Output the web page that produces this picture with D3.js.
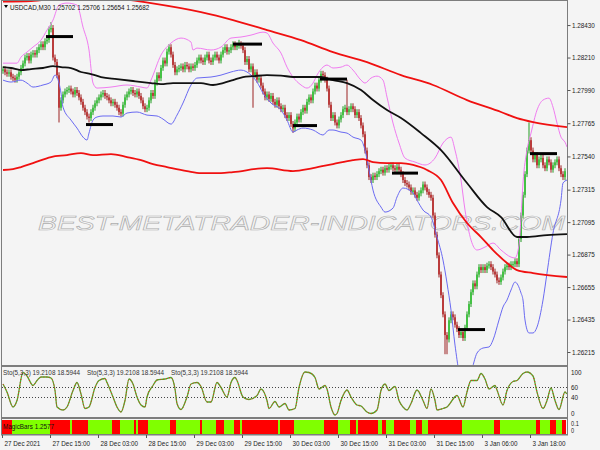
<!DOCTYPE html>
<html><head><meta charset="utf-8">
<script src="https://cdn.jsdelivr.net/npm/d3@7"></script>
<style>
body{margin:0;background:#f4f4f4}
svg{display:block}
text{font-family:"Liberation Sans",Arial,sans-serif;}
</style>
</head><body><svg id="c" width="600" height="450"></svg>
<script>
// ---------------- DATA ----------------
const symbolTitle = "USDCAD,M30 1.25702 1.25706 1.25654 1.25682";
const PIP_BASE = 1.26;      // closes stored as pips above 1.26000
const firstOpenPips = 212;
const closePips = [
213,211,210,211,208,207,206,208,211,214,
217,221,222,219,223,224,223,226,228,230,228,232,233,
240,241,
221,
218,209,187,192,196,
198,199,200,198,196,199,197,194,
191,187,184,181,180,184,
187,190,192,194,196,197,195,
194,192,190,191,189,187,184,183,
189,194,196,198,199,197,196,198,195,
192,188,186,187,
192,197,195,204,209,207,214,219,217,225,228,
223,216,211,213,
214,215,213,216,215,213,215,214,216,219,221,
219,218,221,223,219,218,221,223,221,219,
223,226,228,225,226,228,230,228,229,230,229,
226,218,220,213,215,209,211,206,207,202,
198,194,196,193,195,191,189,192,188,186,187,182,180,182,176,173,
177,181,179,184,187,185,191,194,192,198,202,200,206,210,
209,206,200,189,180,182,
177,175,179,182,186,187,184,186,188,186,182,184,180,175,
169,158,148,
140,138,141,140,142,144,145,143,146,145,147,148,146,145,147,145,
142,138,136,135,133,130,131,128,126,129,131,135,133,130,128,126,
114,101,87,74,60,47,33,
30,43,47,45,40,37,33,35,31,38,47,54,
62,68,66,74,79,77,79,77,80,81,79,76,74,70,69,72,76,79,80,79,81,81,83,81,
98,114,128,142,158,165,
158,152,155,148,152,153,148,146,152,150,145,148,150,152,146,142,140,144
];
const typicalWickPips = 2;
const longHighWicks = [[24,245],[84,230],[118,233],[160,212],[172,206],[263,177]];
const longLowWicks  = [[28,177],[43,177],[125,187],[145,170],[221,20],[222,20]];

const redSlow = [[0,1.28589],[14,1.28593],[29,1.28613],[49,1.28620],[64,1.28599],[74,1.28579],[99,1.28518],[115,1.28464],[132,1.28396],[149,1.28328],[165,1.28247],[182,1.28179],[199,1.28091],[215,1.28024],[232,1.27922],[249,1.27841],[257,1.27800],[265,1.27773],[282,1.27739]];
const redFast = [[0,1.27448],[5,1.27454],[9,1.27468],[15,1.27495],[24,1.27536],[32,1.27549],[39,1.27563],[45,1.27549],[54,1.27556],[62,1.27536],[69,1.27515],[75,1.27488],[82,1.27468],[92,1.27441],[99,1.27427],[109,1.27427],[115,1.27434],[132,1.27461],[145,1.27441],[155,1.27461],[165,1.27488],[175,1.27515],[180,1.27522],[185,1.27502],[192,1.27495],[199,1.27495],[205,1.27482],[212,1.27448],[219,1.27380],[225,1.27224],[232,1.27089],[239,1.26994],[245,1.26906],[252,1.26818],[257,1.26770],[265,1.26750],[282,1.26723]];
const blackMA = [[0,1.28145],[4,1.28139],[9,1.28125],[14,1.28132],[20,1.28139],[25,1.28152],[29,1.28145],[34,1.28139],[39,1.28112],[44,1.28098],[49,1.28078],[57,1.28064],[65,1.28051],[74,1.28037],[79,1.28030],[85,1.28037],[99,1.28037],[105,1.28024],[110,1.28037],[115,1.28057],[120,1.28078],[125,1.28084],[132,1.28091],[139,1.28088],[145,1.28078],[159,1.28078],[165,1.28057],[172,1.28037],[179,1.27990],[185,1.27922],[192,1.27854],[199,1.27800],[209,1.27698],[219,1.27583],[232,1.27360],[242,1.27197],[249,1.27129],[257,1.26994],[262,1.26994],[272,1.27007],[282,1.27014]];
const bbUpper = [[0,1.28172],[7,1.28172],[9,1.28213],[12,1.28247],[15,1.28281],[19,1.28328],[22,1.28396],[25,1.28464],[28,1.28565],[32,1.28579],[37,1.28565],[40,1.28416],[43,1.28261],[45,1.28037],[47,1.28003],[54,1.28010],[62,1.28024],[69,1.28010],[72,1.28003],[74,1.28057],[79,1.28227],[84,1.28308],[89,1.28342],[94,1.28315],[95,1.28261],[97,1.28274],[104,1.28261],[109,1.28281],[114,1.28342],[119,1.28349],[124,1.28362],[130,1.28382],[132,1.28376],[135,1.28308],[139,1.28240],[142,1.28145],[145,1.28078],[149,1.28024],[152,1.28003],[155,1.28037],[157,1.28091],[160,1.28145],[162,1.28159],[165,1.28139],[169,1.28145],[172,1.28159],[175,1.28125],[179,1.28057],[181,1.28037],[184,1.28071],[187,1.28084],[190,1.28057],[192,1.27942],[195,1.27766],[198,1.27631],[201,1.27529],[206,1.27502],[211,1.27482],[216,1.27529],[220,1.27631],[224,1.27671],[226,1.27583],[229,1.27380],[231,1.27177],[234,1.26974],[237,1.26906],[241,1.26926],[245,1.26953],[249,1.26906],[254,1.26858],[256,1.26852],[258,1.26940],[259,1.27129],[260,1.27360],[262,1.27583],[264,1.27698],[267,1.27854],[270,1.27922],[273,1.27935],[275,1.27874],[277,1.27766],[279,1.27671],[281,1.27637],[282,1.27604]];
const bbLower = [[0,1.28057],[4,1.28044],[9,1.28057],[12,1.28037],[15,1.28010],[20,1.28024],[24,1.28044],[26,1.28091],[27,1.28078],[29,1.27969],[30,1.27874],[34,1.27786],[37,1.27732],[40,1.27671],[42,1.27651],[43,1.27698],[45,1.27786],[47,1.27807],[50,1.27814],[55,1.27814],[59,1.27807],[62,1.27834],[67,1.27841],[72,1.27820],[77,1.27814],[80,1.27793],[84,1.27759],[87,1.27820],[90,1.27902],[94,1.28024],[97,1.28071],[104,1.28078],[109,1.28091],[114,1.28112],[119,1.28125],[124,1.28091],[127,1.28044],[130,1.27969],[134,1.27902],[139,1.27854],[142,1.27786],[145,1.27705],[147,1.27719],[150,1.27732],[155,1.27719],[160,1.27685],[163,1.27719],[165,1.27719],[169,1.27705],[172,1.27698],[175,1.27671],[179,1.27651],[181,1.27583],[183,1.27448],[185,1.27312],[189,1.27197],[191,1.27163],[195,1.27190],[197,1.27265],[200,1.27326],[205,1.27292],[207,1.27244],[210,1.27177],[214,1.27129],[217,1.26994],[220,1.26838],[222,1.26682],[224,1.26499],[226,1.26262],[230,1.25991],[234,1.26079],[237,1.26208],[240,1.26242],[243,1.26249],[245,1.26296],[248,1.26432],[250,1.26520],[252,1.26567],[254,1.26635],[256,1.26689],[259,1.26615],[260,1.26567],[261,1.26432],[263,1.26344],[265,1.26344],[267,1.26384],[270,1.26567],[272,1.26750],[275,1.27021],[279,1.27244],[280,1.27360],[282,1.27380]];
// horizontal level marks: [fromBar, toBar, price]
const levelMarks = [[22,35.5,1.28352],[42,55.5,1.27756],[115.5,130,1.28301],[145.5,157.5,1.27749],[159,172.5,1.28064],[195,208,1.27427],[228,241.5,1.26367],[264,277.5,1.27559]];

const priceTickLabels = ["1.28430","1.28210","1.27990","1.27765","1.27540","1.27315","1.27095","1.26875","1.26655","1.26435","1.26215"];
const dateTickBars = [0,24,48,72,96,120,144,168,192,216,240,264];
const dateTickLabels = ["27 Dec 2021","27 Dec 15:00","28 Dec 03:00","28 Dec 15:00","29 Dec 03:00","29 Dec 15:00","30 Dec 03:00","30 Dec 15:00","31 Dec 03:00","31 Dec 15:00","3 Jan 06:00","3 Jan 18:00"];

const stochLabel = "Sto(5,3,3) 19.2108 18.5944";
const stochLevels = [100,60,40,0];
const stochPoints = [[0,66],[2,50],[5,20],[7,33],[10,89],[12,82],[15,63],[17,73],[19,80],[22,80],[24,78],[26,53],[27,20],[30,14],[32,20],[35,53],[37,69],[39,46],[41,17],[43,20],[46,59],[48,73],[51,77],[52,69],[55,40],[57,20],[59,10],[61,33],[63,76],[65,66],[67,40],[69,24],[71,20],[72,40],[75,63],[77,74],[81,76],[84,79],[86,56],[87,27],[89,15],[92,40],[94,66],[97,69],[99,61],[102,30],[104,30],[107,69],[109,59],[112,40],[114,69],[116,79],[117,73],[120,40],[123,35],[127,43],[129,56],[132,33],[133,17],[136,31],[138,20],[141,27],[143,14],[146,17],[148,59],[151,90],[153,89],[156,79],[158,56],[161,63],[162,56],[164,20],[166,4],[167,7],[169,33],[172,54],[174,40],[177,24],[179,22],[182,10],[184,7],[187,14],[189,53],[191,66],[193,53],[196,61],[198,33],[200,20],[202,14],[204,27],[207,54],[210,33],[212,17],[214,56],[216,33],[217,14],[220,17],[222,20],[227,43],[230,20],[232,50],[234,73],[237,73],[239,87],[241,76],[243,56],[246,63],[247,54],[250,24],[252,53],[255,71],[257,73],[260,87],[262,90],[265,82],[267,50],[270,17],[272,33],[274,58],[276,33],[278,15],[281,50],[282,46]];

const magicLabel = "MagicBars 1.2577";
const magicLevels = ["0.1","0"];
const magicChanges = [[0,"dn"],[5,"up"],[24,"dn"],[34,"up"],[35,"dn"],[43,"up"],[55,"dn"],[59,"up"],[66,"dn"],[67,"up"],[68,"dn"],[73,"up"],[84,"dn"],[87,"up"],[99,"dn"],[100,"up"],[107,"dn"],[111,"up"],[116,"dn"],[119,"up"],[120,"dn"],[138,"up"],[139,"dn"],[146,"up"],[161,"dn"],[168,"up"],[174,"dn"],[177,"up"],[178,"dn"],[188,"up"],[190,"dn"],[192,"up"],[196,"dn"],[204,"up"],[207,"dn"],[210,"up"],[213,"dn"],[230,"up"],[246,"dn"],[249,"up"],[267,"dn"],[269,"up"],[274,"dn"],[277,"up"],[280,"dn"]];
const watermark = "BEST-METATRADER-INDICATORS.COM";

// ---------------- LAYOUT ----------------
const L = 2, R = 567, NB = 282;
const main = {top:1, bottom:365};
const sto  = {top:367, bottom:417};
const mag  = {top:419, bottom:434};

const svg = d3.select("#c");
svg.append("rect").attr("width",600).attr("height",450).attr("fill","#f4f4f4");

const x = d3.scaleLinear().domain([0, NB]).range([3, 3 + 2*NB]);      // bar centre
const xe = d3.scaleLinear().domain([0, NB]).range([2, 2 + 2*NB]);     // bar left edge
const y = d3.scaleLinear().domain([1.26127, 1.28593]).range([main.bottom, main.top]);
const ys = d3.scaleLinear().domain([0,100]).range([sto.bottom, sto.top]);

const defs = svg.append("defs");
defs.append("clipPath").attr("id","cm").append("rect").attr("x",L).attr("y",0).attr("width",R-L).attr("height",main.bottom);
defs.append("clipPath").attr("id","cs").append("rect").attr("x",L).attr("y",sto.top).attr("width",R-L).attr("height",sto.bottom-sto.top);

// watermark
svg.append("text").attr("x",38).attr("y",230).text(watermark)
  .attr("font-family","DejaVu Sans, sans-serif").attr("font-style","italic")
  .attr("font-size",20.5).attr("textLength",527).attr("lengthAdjust","spacingAndGlyphs")
  .attr("fill","none").attr("stroke","#adadad").attr("stroke-width",0.6);

const gm = svg.append("g").attr("clip-path","url(#cm)");

// candles
const px = p => PIP_BASE + p/10000;
const hiMap = new Map(longHighWicks), loMap = new Map(longLowWicks);
const candles = closePips.map((c,i)=>{
  const o = i ? closePips[i-1] : firstOpenPips;
  const hi = hiMap.has(i) ? hiMap.get(i) : Math.max(o,c) + typicalWickPips;
  const lo = loMap.has(i) ? loMap.get(i) : Math.min(o,c) - typicalWickPips;
  return {i, o:px(o), c:px(c), h:px(hi), l:px(lo), up: c>=o};
});
const upCol = "#239a23", dnCol = "#9c2323";
gm.append("g").selectAll("line").data(candles).join("line")
  .attr("x1",d=>x(d.i)).attr("x2",d=>x(d.i)).attr("y1",d=>y(d.h)).attr("y2",d=>y(d.l))
  .attr("stroke",d=>d.up?upCol:dnCol).attr("stroke-width",1);
gm.append("g").selectAll("rect").data(candles).join("rect")
  .attr("x",d=>x(d.i)-0.9).attr("width",1.8)
  .attr("y",d=>y(Math.max(d.o,d.c))).attr("height",d=>Math.max(1,Math.abs(y(d.o)-y(d.c))))
  .attr("fill",d=>d.up?"#3cc03c":"#b83434");

// indicator lines
const line = d3.line().x(d=>x(d[0])).y(d=>y(d[1])).curve(d3.curveMonotoneX);
gm.append("path").attr("d",line(bbUpper)).attr("fill","none").attr("stroke","#f07cf0").attr("stroke-width",1);
gm.append("path").attr("d",line(bbLower)).attr("fill","none").attr("stroke","#6a6af2").attr("stroke-width",1);
gm.append("path").attr("d",line(blackMA)).attr("fill","none").attr("stroke","#111").attr("stroke-width",1.8);
gm.append("path").attr("d",line(redFast)).attr("fill","none").attr("stroke","#f01010").attr("stroke-width",1.8);
gm.append("path").attr("d",line(redSlow)).attr("fill","none").attr("stroke","#f01010").attr("stroke-width",1.8);

// level marks
gm.append("g").selectAll("line").data(levelMarks).join("line")
  .attr("x1",d=>xe(d[0])).attr("x2",d=>xe(d[1])).attr("y1",d=>y(d[2])).attr("y2",d=>y(d[2]))
  .attr("stroke","#000").attr("stroke-width",3);

// stochastic pane
const gs = svg.append("g").attr("clip-path","url(#cs)");
gs.selectAll("line.lvl").data([60,40]).join("line").attr("class","lvl")
  .attr("x1",L).attr("x2",R).attr("y1",d=>ys(d)+0.5).attr("y2",d=>ys(d)+0.5)
  .attr("stroke","#444").attr("stroke-width",1).attr("stroke-dasharray","1,2");
const sline = d3.line().x(d=>x(d[0])).y(d=>ys(d[1])).curve(d3.curveMonotoneX);
gs.append("path").attr("d",sline(stochPoints)).attr("fill","none").attr("stroke","#4fa82a").attr("stroke-width",1.3);
gs.append("path").attr("d",sline(stochPoints)).attr("fill","none").attr("stroke","#e83020").attr("stroke-width",1).attr("stroke-dasharray","1,2");

// magic bars pane
const segs = magicChanges.map((d,k)=>({from:d[0], to: k<magicChanges.length-1 ? magicChanges[k+1][0] : NB, s:d[1]}));
svg.append("g").selectAll("rect").data(segs).join("rect")
  .attr("x",d=>xe(d.from)).attr("width",d=>xe(d.to)-xe(d.from))
  .attr("y",mag.top+1).attr("height",mag.bottom-mag.top-1)
  .attr("fill",d=>d.s==="up"?"#80ff00":"#ff0000");

// frames / separators
const frame = svg.append("g").attr("fill","none").attr("stroke","#7d7d7d");
frame.append("line").attr("x1",L-0.5).attr("x2",L-0.5).attr("y1",0).attr("y2",mag.bottom);
frame.append("line").attr("x1",R+0.5).attr("x2",R+0.5).attr("y1",0).attr("y2",mag.bottom);
frame.append("line").attr("x1",L-1).attr("x2",R+1).attr("y1",0.5).attr("y2",0.5);
svg.append("rect").attr("x",L-1).attr("y",main.bottom).attr("width",R-L+2).attr("height",2).attr("fill","#7d7d7d");
svg.append("rect").attr("x",L-1).attr("y",sto.bottom).attr("width",R-L+2).attr("height",2).attr("fill","#7d7d7d");
svg.append("rect").attr("x",L-1).attr("y",mag.bottom).attr("width",R-L+2).attr("height",1.5).attr("fill","#7d7d7d");

// axes
const FS = 7.2;
const yAxis = d3.axisRight(y).tickValues(priceTickLabels.map(Number)).tickSize(3).tickPadding(1.5)
  .tickFormat((d,i)=>priceTickLabels[i]);
const ga = svg.append("g").attr("transform",`translate(${R+0.5},0)`).call(yAxis);
ga.select(".domain").remove();
ga.selectAll("line").attr("stroke","#555");
ga.selectAll("text").attr("class","cmp").attr("font-size",FS).attr("fill","#222").attr("font-family","Liberation Sans, Arial, sans-serif");

const xAxis = d3.axisBottom(xe).tickValues(dateTickBars).tickSize(3).tickPadding(2.5)
  .tickFormat((d,i)=>dateTickLabels[i]);
const gx = svg.append("g").attr("transform",`translate(0,${mag.bottom+1})`).call(xAxis);
gx.select(".domain").remove();
gx.selectAll("line").attr("stroke","#555");
gx.selectAll("text").attr("class","cmp").attr("text-anchor","start").attr("x",2)
  .attr("font-size",FS).attr("fill","#222").attr("font-family","Liberation Sans, Arial, sans-serif");

// stoch level labels
const stoLabelY = v => Math.min(Math.max(ys(v)+2.5, sto.top+8), sto.bottom-1.5);
svg.append("g").selectAll("text").data(stochLevels).join("text").attr("class","cmp")
  .attr("x",R+4).attr("y",d=>stoLabelY(d)).text(d=>d).attr("font-size",FS).attr("fill","#222");
// magic bars level labels (stacked tightly, as in the terminal)
svg.append("g").selectAll("text").data(magicLevels).join("text").attr("class","cmp")
  .attr("x",R+4).attr("y",(d,i)=>mag.top+6.5+i*7).text(d=>d).attr("font-size",6.4).attr("fill","#222");

// titles
svg.append("path").attr("d","M4,5 L8,5 L6,8 Z").attr("fill","#000");
svg.append("text").attr("class","cmp").attr("x",10).attr("y",9.5).text(symbolTitle).attr("font-size",FS).attr("fill","#111");
[3,87,171].forEach(xx=>svg.append("text").attr("class","cmp").attr("x",xx).attr("y",375).text(stochLabel).attr("font-size",FS).attr("fill","#333"));
svg.append("text").attr("class","cmp").attr("x",3).attr("y",429).text(magicLabel).attr("font-size",FS).attr("fill","#111");

// narrow the small MT4-style font
svg.selectAll("text.cmp").each(function(){
  const w = this.getComputedTextLength();
  d3.select(this).attr("textLength", w*0.88).attr("lengthAdjust","spacingAndGlyphs");
});
</script></body></html>
